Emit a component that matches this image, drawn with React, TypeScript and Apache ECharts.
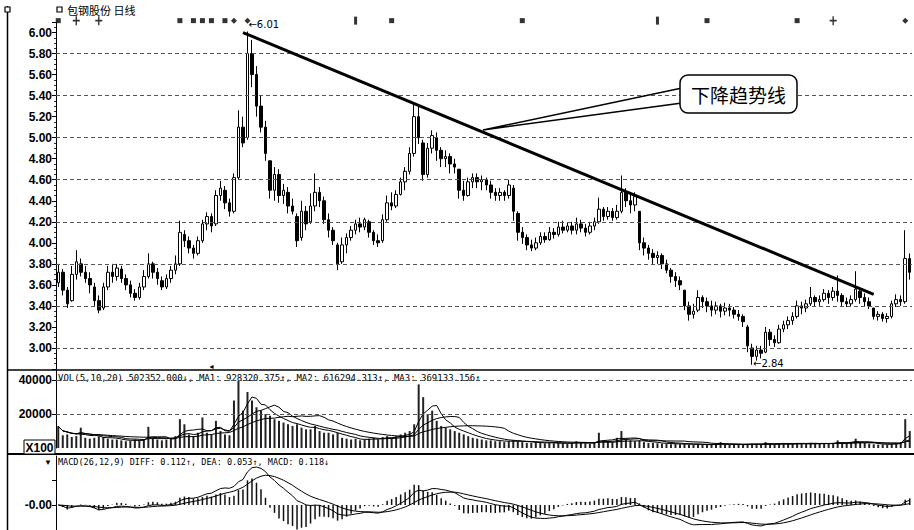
import React, { useEffect, useRef } from "react";
import * as echarts from "echarts";

// [open, close, low, high]
const candles: number[][] = [
  [3.62,3.72,3.58,3.80],[3.72,3.55,3.50,3.75],[3.55,3.42,3.38,3.58],[3.45,3.70,3.44,3.78],[3.70,3.82,3.65,3.93],
  [3.80,3.72,3.68,3.85],[3.72,3.66,3.62,3.78],[3.66,3.60,3.52,3.72],[3.58,3.45,3.40,3.62],[3.45,3.36,3.33,3.50],
  [3.38,3.58,3.36,3.62],[3.58,3.72,3.55,3.78],[3.72,3.68,3.62,3.80],[3.68,3.76,3.64,3.80],[3.75,3.66,3.62,3.78],
  [3.66,3.60,3.55,3.70],[3.60,3.52,3.48,3.64],[3.52,3.48,3.45,3.56],[3.48,3.58,3.46,3.62],[3.58,3.68,3.55,3.74],
  [3.68,3.80,3.66,3.90],[3.80,3.72,3.66,3.82],[3.72,3.66,3.60,3.76],[3.64,3.58,3.55,3.68],[3.58,3.66,3.56,3.70],
  [3.66,3.74,3.62,3.78],[3.74,3.80,3.70,3.88],[3.80,4.10,3.78,4.21],[4.08,4.02,3.96,4.12],[4.02,3.95,3.90,4.06],
  [3.95,3.90,3.85,3.98],[3.90,4.02,3.88,4.06],[4.02,4.18,4.00,4.22],[4.18,4.25,4.12,4.29],[4.25,4.16,4.10,4.28],
  [4.18,4.45,4.16,4.50],[4.45,4.52,4.40,4.59],[4.50,4.38,4.32,4.54],[4.38,4.30,4.25,4.42],[4.30,4.62,4.28,4.66],
  [4.62,5.10,4.60,5.26],[5.10,4.95,4.91,5.20],[5.00,5.80,4.98,6.01],[5.80,5.60,5.48,5.93],[5.60,5.30,5.20,5.68],
  [5.30,5.10,5.05,5.40],[5.10,4.85,4.78,5.16],[4.78,4.50,4.42,4.78],[4.50,4.65,4.40,4.72],[4.65,4.45,4.38,4.70],
  [4.45,4.50,4.37,4.56],[4.48,4.35,4.28,4.53],[4.35,4.30,4.27,4.42],[4.25,4.02,3.96,4.28],[4.05,4.30,4.02,4.40],
  [4.30,4.18,4.12,4.35],[4.20,4.35,4.18,4.47],[4.35,4.48,4.30,4.66],[4.48,4.40,4.34,4.53],[4.40,4.22,4.18,4.44],
  [4.22,4.12,4.05,4.28],[4.12,4.02,3.98,4.15],[3.98,3.80,3.74,4.00],[3.82,3.98,3.80,4.05],[3.98,4.05,3.90,4.09],
  [4.05,4.12,4.02,4.16],[4.12,4.18,4.08,4.22],[4.18,4.15,4.10,4.24],[4.15,4.22,4.12,4.24],[4.20,4.10,4.05,4.22],
  [4.10,4.02,3.98,4.12],[4.02,4.00,3.96,4.08],[4.02,4.22,4.00,4.27],[4.22,4.38,4.20,4.45],[4.38,4.35,4.31,4.48],
  [4.35,4.46,4.33,4.50],[4.46,4.58,4.45,4.62],[4.58,4.68,4.50,4.72],[4.68,4.85,4.65,4.91],[4.85,5.20,4.82,5.32],
  [5.20,5.00,4.94,5.32],[4.95,4.65,4.59,4.98],[4.65,4.90,4.62,4.95],[4.90,5.02,4.85,5.07],[5.00,4.88,4.78,5.05],
  [4.88,4.80,4.72,4.91],[4.80,4.82,4.72,4.88],[4.82,4.75,4.66,4.85],[4.75,4.72,4.66,4.80],[4.70,4.50,4.42,4.70],
  [4.50,4.45,4.40,4.59],[4.45,4.58,4.44,4.62],[4.58,4.62,4.52,4.66],[4.62,4.58,4.52,4.66],[4.58,4.60,4.50,4.64],
  [4.60,4.55,4.50,4.62],[4.55,4.48,4.42,4.59],[4.48,4.45,4.40,4.52],[4.45,4.48,4.40,4.52],[4.48,4.45,4.40,4.50],
  [4.45,4.55,4.42,4.60],[4.52,4.30,4.21,4.55],[4.28,4.10,4.02,4.30],[4.10,4.05,3.99,4.15],[4.05,3.98,3.93,4.08],
  [3.98,3.95,3.92,4.03],[3.95,4.00,3.93,4.05],[4.00,4.06,3.98,4.10],[4.06,4.03,4.00,4.10],[4.03,4.10,4.02,4.15],
  [4.10,4.08,4.04,4.14],[4.08,4.15,4.06,4.20],[4.15,4.12,4.09,4.21],[4.12,4.16,4.10,4.19],[4.16,4.12,4.08,4.20],
  [4.12,4.18,4.08,4.24],[4.18,4.14,4.10,4.22],[4.14,4.10,4.06,4.18],[4.10,4.16,4.08,4.20],[4.16,4.20,4.12,4.24],
  [4.20,4.32,4.18,4.43],[4.32,4.25,4.21,4.34],[4.25,4.30,4.22,4.34],[4.30,4.24,4.21,4.33],[4.24,4.30,4.22,4.36],
  [4.30,4.48,4.28,4.64],[4.48,4.40,4.34,4.52],[4.40,4.36,4.28,4.46],[4.36,4.44,4.30,4.48],[4.30,4.00,3.93,4.30],
  [4.00,3.95,3.88,4.05],[3.95,3.90,3.84,3.98],[3.90,3.86,3.80,3.94],[3.86,3.88,3.80,3.92],[3.88,3.80,3.75,3.90],
  [3.80,3.74,3.71,3.84],[3.74,3.68,3.62,3.76],[3.68,3.64,3.58,3.72],[3.64,3.60,3.55,3.68],[3.55,3.40,3.36,3.55],
  [3.40,3.32,3.26,3.44],[3.32,3.35,3.28,3.42],[3.36,3.48,3.34,3.55],[3.48,3.44,3.38,3.50],[3.44,3.40,3.34,3.48],
  [3.40,3.36,3.30,3.45],[3.36,3.40,3.32,3.44],[3.40,3.35,3.29,3.42],[3.35,3.38,3.31,3.43],[3.38,3.36,3.30,3.42],
  [3.36,3.32,3.28,3.39],[3.32,3.30,3.26,3.36],[3.30,3.25,3.20,3.32],[3.20,3.02,2.96,3.22],[3.00,2.92,2.84,3.04],
  [2.92,2.98,2.88,3.02],[2.98,2.95,2.90,3.02],[2.96,3.15,2.95,3.20],[3.15,3.08,3.02,3.18],[3.08,3.05,3.01,3.12],
  [3.05,3.18,3.04,3.22],[3.18,3.22,3.15,3.26],[3.22,3.26,3.18,3.30],[3.26,3.30,3.22,3.34],[3.30,3.40,3.28,3.45],
  [3.40,3.38,3.32,3.44],[3.38,3.42,3.34,3.46],[3.42,3.48,3.40,3.58],[3.48,3.44,3.39,3.50],[3.44,3.46,3.40,3.50],
  [3.46,3.52,3.44,3.56],[3.52,3.48,3.42,3.55],[3.48,3.54,3.45,3.58],[3.54,3.50,3.44,3.69],[3.50,3.44,3.40,3.52],
  [3.44,3.42,3.39,3.48],[3.42,3.46,3.40,3.50],[3.46,3.56,3.44,3.73],[3.54,3.48,3.42,3.58],[3.48,3.44,3.40,3.52],
  [3.44,3.40,3.37,3.48],[3.38,3.30,3.27,3.38],[3.30,3.32,3.26,3.35],[3.32,3.28,3.25,3.34],[3.28,3.30,3.24,3.33],
  [3.30,3.42,3.28,3.45],[3.42,3.46,3.39,3.51],[3.46,3.44,3.40,3.50],[3.44,3.85,3.42,4.12],[3.85,3.72,3.65,3.90],
];

// volume, in units of 100 shares
const volumes: number[] = [
  12800,7500,8000,6500,7000,12000,6000,5500,6000,7000,
  6500,5500,5000,5000,4500,4000,4200,5000,4500,5000,
  12500,6000,5000,4500,5000,6000,7000,17000,14000,8000,
  7000,9000,18000,9000,8000,16000,10000,8000,7500,28000,
  39500,22000,33000,28000,24000,22000,20000,19000,17000,16000,
  15000,14000,13000,14000,12000,11000,11000,13000,10000,9000,
  9000,8000,9000,6000,5500,5000,5500,4500,5000,5500,
  6000,5000,6500,7000,6000,7000,8000,9000,10000,14000,
  37500,30000,20000,22000,16000,13000,12000,11000,10000,9000,
  8000,7000,6000,5500,5000,4500,4500,4000,4000,3500,
  4000,4500,4000,3500,3000,3000,3500,3000,2800,3000,
  2800,3000,2800,2500,3000,4000,3000,2800,2500,3000,
  9000,4500,4000,3500,6000,10000,5000,4500,4000,4500,
  3500,3000,3000,2800,2500,2500,2200,2500,2200,2500,
  2000,2000,2200,2000,1800,2000,2200,3500,2000,1800,
  1800,2000,2200,2500,2500,2200,2000,3500,2500,2200,
  2500,2800,2500,2500,3000,2800,2500,3000,2500,2500,
  2800,2500,3000,4500,3000,2800,3500,5500,3500,3000,
  2500,2200,2000,2200,2000,2500,3000,3500,17000,10000,
];

const priceGridLines = [3.0, 3.4, 3.8, 4.2, 4.6, 5.0, 5.4, 5.8];
const volumeGridLines = [20000, 40000];
const trendLine = [[41, 6.0], [181, 3.51]];
const infoMarks: [number, string][] = [
  [0, "rect"], [4, "cross"], [9, "cross"], [27, "rect"], [30, "rect"], [32, "rect"], [34, "rect"],
  [37, "rect"], [39, "diamond"], [42, "diamond"], [66, "tick"], [74, "rect"], [103, "rect"],
  [133, "tick"], [144, "rect"], [164, "rect"], [172, "cross"], [188, "diamond"],
];
const peakMark = { index: 42, value: 6.01, text: "←6.01" };
const lowMark = { index: 154, value: 2.84, text: "←2.84" };
const maPeriods = [5, 10, 20];
const macdParams = { long: 26, short: 12, signal: 9 };
const titleText = "包钢股份 日线";
const calloutText = "下降趋势线";
const volLegend = "VOL(5,10,20) 502352.000↓, MA1: 928320.375↑, MA2: 616294.313↑, MA3: 369133.156↑";
const macdLegend = "MACD(26,12,9) DIFF: 0.112↑, DEA: 0.053↑, MACD: 0.118↓";

function movingAverage(arr: number[], n: number): number[] {
  return arr.map((_, i) => {
    const s = Math.max(0, i - n + 1);
    let sum = 0;
    for (let k = s; k <= i; k++) sum += arr[k];
    return sum / (i - s + 1);
  });
}
function ema(arr: number[], n: number): number[] {
  const out: number[] = [];
  arr.forEach((v, i) => {
    out.push(i === 0 ? v : (2 * v + (n - 1) * out[i - 1]) / (n + 1));
  });
  return out;
}

const crossPath = "path://M4,0H6V4H10V6H6V10H4V6H0V4H4Z";
const tickPath = "path://M4,0H6V10H4Z";

export default function App() {
  const ref = useRef<HTMLDivElement>(null);
  useEffect(() => {
    document.body.style.margin = "0";
    if (!ref.current) return;
    const chart = echarts.init(ref.current, undefined, { renderer: "svg" });
    const cats = candles.map((_, i) => String(i + 1));
    const closes = candles.map((c) => c[1]);
    const emaS = ema(closes, macdParams.short);
    const emaL = ema(closes, macdParams.long);
    const diff = emaS.map((v, i) => v - emaL[i]);
    const dea = ema(diff, macdParams.signal);
    const hist = diff.map((v, i) => 2 * (v - dea[i]));
    const posMax = Math.max(...diff, ...dea, ...hist);
    const macdMax = posMax * 1.29;
    const macdStep = (macdMax * 25) / 49;

    const black = "#000";
    const dashed = { color: "#555", type: [4, 3] as any, width: 1 };
    const xAxisBase = (g: number) => ({
      type: "category", gridIndex: g, data: cats, boundaryGap: true,
      axisLine: { show: false }, axisTick: { show: false }, axisLabel: { show: false }, splitLine: { show: false },
    });
    const labelStyle = { color: black, fontWeight: "bold", fontSize: 12, fontFamily: "Liberation Sans", margin: 4 };

    const symbolFor = (t: string) => (t === "rect" ? "rect" : t === "diamond" ? "diamond" : t === "cross" ? crossPath : tickPath);
    const sizeFor = (t: string) => (t === "rect" ? 5 : t === "diamond" ? 6 : t === "cross" ? [7, 9] : [3, 8]);

    chart.setOption({
      animation: false,
      backgroundColor: "#fff",
      grid: [
        { left: 56, right: 2, top: 22, height: 347 },
        { left: 56, right: 2, top: 370, height: 78 },
        { left: 56, right: 2, top: 456, height: 74 },
      ],
      xAxis: [xAxisBase(0), xAxisBase(1), xAxisBase(2)],
      yAxis: [
        {
          gridIndex: 0, min: 2.8, max: 6.1, interval: 0.2,
          axisLine: { show: true, lineStyle: { color: black } },
          axisTick: { show: true, length: 4, lineStyle: { color: black } },
          minorTick: { show: true, splitNumber: 4, length: 2, lineStyle: { color: "#333" } },
          axisLabel: { ...labelStyle, showMinLabel: false, showMaxLabel: false, formatter: (v: number) => v.toFixed(2) },
          splitLine: { show: false },
        },
        {
          gridIndex: 1, min: 0, max: 46000, interval: 20000,
          axisLine: { show: true, lineStyle: { color: black } },
          axisTick: { show: true, length: 4, lineStyle: { color: black } },
          axisLabel: { ...labelStyle, showMinLabel: false, showMaxLabel: false, formatter: (v: number) => String(Math.round(v)) },
          splitLine: { show: false },
        },
        {
          gridIndex: 2, min: -macdStep, max: macdMax, interval: macdStep,
          axisLine: { show: true, lineStyle: { color: black } },
          axisTick: { show: true, length: 4, lineStyle: { color: black } },
          axisLabel: {
            ...labelStyle, showMinLabel: false, showMaxLabel: false,
            formatter: (v: number) => (Math.abs(v) < macdStep * 1e-6 ? "-0.00" : ""),
          },
          splitLine: { show: false },
        },
      ],
      series: [
        {
          type: "candlestick", xAxisIndex: 0, yAxisIndex: 0, data: candles, barWidth: 3,
          itemStyle: { color: "#fff", color0: black, borderColor: black, borderColor0: black, borderWidth: 1 },
          markLine: {
            silent: true, symbol: ["none", "none"], label: { show: false }, animation: false,
            data: [
              ...priceGridLines.map((v) => ({ yAxis: v, lineStyle: dashed })),
              [
                { coord: trendLine[0], lineStyle: { color: black, width: 3, type: "solid" } },
                { coord: trendLine[1] },
              ],
            ],
          },
          markPoint: {
            silent: true, symbolSize: 0, animation: false,
            data: [
              {
                coord: [peakMark.index, peakMark.value],
                label: { show: true, position: "right", distance: 1, offset: [0, -7], formatter: peakMark.text, color: black, fontSize: 10, fontFamily: "DejaVu Sans" },
              },
              {
                coord: [lowMark.index, lowMark.value],
                label: { show: true, position: "right", distance: 1, offset: [0, -1], formatter: lowMark.text, color: black, fontSize: 10, fontFamily: "DejaVu Sans" },
              },
            ],
          },
        },
        {
          type: "scatter", xAxisIndex: 0, yAxisIndex: 0, clip: false, silent: true,
          itemStyle: { color: black },
          data: infoMarks.map(([i, t]) => ({ value: [i, 6.113], symbol: symbolFor(t), symbolSize: sizeFor(t) })),
        },
        {
          type: "bar", xAxisIndex: 1, yAxisIndex: 1, data: volumes, barWidth: 2,
          itemStyle: { color: "#222" },
          markLine: {
            silent: true, symbol: ["none", "none"], label: { show: false }, animation: false,
            data: volumeGridLines.map((v) => ({ yAxis: v, lineStyle: dashed })),
          },
        },
        ...maPeriods.map((n) => ({
          type: "line", xAxisIndex: 1, yAxisIndex: 1, data: movingAverage(volumes, n),
          showSymbol: false, symbol: "none", lineStyle: { color: black, width: 1 },
        })),
        {
          type: "bar", xAxisIndex: 2, yAxisIndex: 2, data: hist, barWidth: 1.5,
          itemStyle: { color: "#111" },
        },
        {
          type: "line", xAxisIndex: 2, yAxisIndex: 2, data: diff, showSymbol: false, symbol: "none",
          lineStyle: { color: black, width: 1 },
        },
        {
          type: "line", xAxisIndex: 2, yAxisIndex: 2, data: dea, showSymbol: false, symbol: "none",
          lineStyle: { color: black, width: 1 },
        },
      ],
      graphic: [
        { type: "line", shape: { x1: 7.5, y1: 6, x2: 7.5, y2: 530 }, style: { stroke: black, lineWidth: 1.5 } },
        { type: "rect", shape: { x: 5, y: 7, width: 5, height: 5 }, style: { fill: "#fff", stroke: black, lineWidth: 1.2 } },
        { type: "rect", shape: { x: 57, y: 7, width: 5, height: 5 }, style: { fill: "#fff", stroke: black, lineWidth: 1.2 } },
        { type: "text", x: 67, y: 10, style: { text: titleText, fontSize: 11, fontFamily: "Noto Sans CJK SC", fill: black, verticalAlign: "middle" } },
        { type: "line", shape: { x1: 8, y1: 370, x2: 914, y2: 370 }, style: { stroke: black, lineWidth: 1.5 } },
        { type: "line", shape: { x1: 8, y1: 454, x2: 914, y2: 454 }, style: { stroke: black, lineWidth: 2 } },
        { type: "text", x: 208, y: 366, style: { text: "◄", fontSize: 7, fill: black, verticalAlign: "middle" } },
        { type: "rect", shape: { x: 24, y: 440, width: 31, height: 14 }, style: { fill: "#fff", stroke: black, lineWidth: 1 } },
        { type: "text", x: 39.5, y: 447.5, style: { text: "X100", fontSize: 12, fontWeight: "bold", fontFamily: "Liberation Sans", fill: black, align: "center", verticalAlign: "middle" } },
        { type: "text", x: 58, y: 378, style: { text: volLegend, fontSize: 9, fontFamily: "DejaVu Sans Mono", fill: black, verticalAlign: "middle" } },
        { type: "text", x: 58, y: 462, style: { text: macdLegend, fontSize: 8.5, fontFamily: "DejaVu Sans Mono", fill: black, verticalAlign: "middle" } },
        { type: "text", x: 48, y: 462, style: { text: "▼", fontSize: 8, fill: black, align: "center", verticalAlign: "middle" } },
        {
          type: "polyline", z: 100,
          shape: { points: [[682, 88], [483, 130], [682, 103]] },
          style: { stroke: black, lineWidth: 1.5, fill: "none" },
        },
        {
          type: "rect", z: 101, shape: { x: 680, y: 75, width: 117, height: 38, r: 8 },
          style: { fill: "#fff", stroke: black, lineWidth: 1.5 },
        },
        {
          type: "text", z: 102, x: 738.5, y: 94,
          style: { text: calloutText, fontSize: 19, fontFamily: "Noto Sans CJK SC", fill: black, align: "center", verticalAlign: "middle" },
        },
      ],
    });
    return () => chart.dispose();
  }, []);
  return <div ref={ref} style={{ width: 914, height: 530 }} />;
}
